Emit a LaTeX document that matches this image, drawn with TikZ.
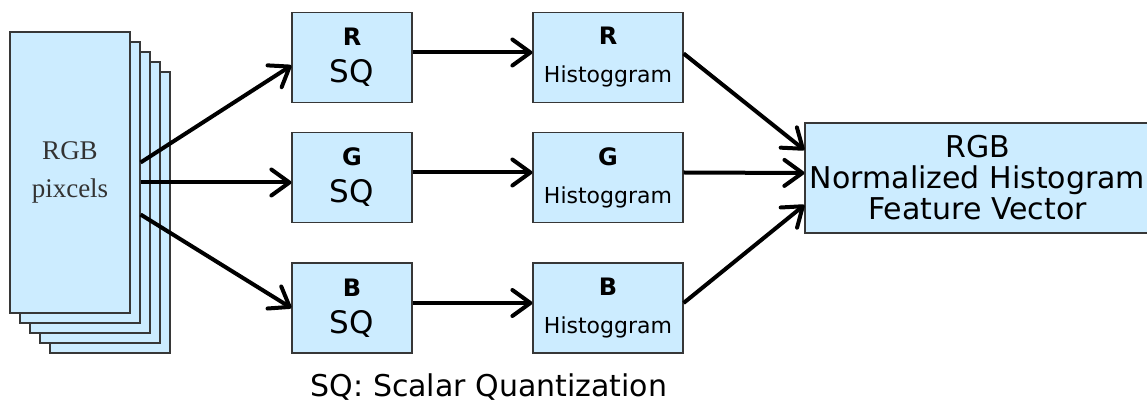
\documentclass[tikz,border=0pt]{standalone}
\usepackage{fontspec}
\usepackage{tikz}
\usetikzlibrary{positioning, arrows.meta}
\newfontfamily\boxfont{DejaVu Sans}
\newfontfamily\pagefont{Liberation Serif}
\definecolor{boxblue}{RGB}{204,236,255}
\definecolor{edge}{RGB}{55,55,55}
\newcommand{\chan}[1]{{\fontsize{12}{18.5}\selectfont\bfseries #1}}

\tikzset{
    page/.style={draw=edge, fill=boxblue, line width=0.6pt, minimum width=60pt, minimum height=140.5pt, inner sep=0pt},
    box/.style={draw=edge, fill=boxblue, line width=0.6pt, minimum height=45pt, inner sep=0pt, align=center},
    sqbox/.style={box, minimum width=60pt, font=\boxfont\fontsize{15.5}{18.5}\selectfont},
    histbox/.style={box, minimum width=75pt, font=\boxfont\fontsize{11}{19}\selectfont},
}

\begin{document}
\begin{tikzpicture}[x=0.5pt, y=-0.5pt, line width=2pt, >={Straight Barb[length=9pt, width=13pt, round]}]
            \useasboundingbox (0, 0) rectangle (1147, 405);

            % stack of pixel planes, back to front
            \foreach \i in {4, 3, 2, 1}
                \node [page] (page\i) at (70 + 10*\i, 172.5 + 10*\i) {};
            \node [page, text=black!80, align=center, font=\pagefont\fontsize{13.5}{19}\selectfont] (page0) at (70, 172.5) {RGB\\pixcels};

            \node [sqbox] (sqR) at (352, 57.5) {\chan{R}\\SQ};
            \node [sqbox] (sqG) at (352, 177.5) {\chan{G}\\SQ};
            \node [sqbox] (sqB) at (352, 308) {\chan{B}\\SQ};

            \node [histbox] (histR) at (608, 57.5) {\chan{R}\\Histoggram};
            \node [histbox] (histG) at (608, 177.5) {\chan{G}\\Histoggram};
            \node [histbox] (histB) at (608, 308) {\chan{B}\\Histoggram};

            \node [box, minimum width=172.5pt, minimum height=55pt, font=\boxfont\fontsize{15}{15.5}\selectfont] (feat) at (977.5, 178) {RGB\\Normalized Histogram\\Feature Vector};

            \node [font=\boxfont\fontsize{15}{18}\selectfont, anchor=base] (note) at (489, 397) {SQ: Scalar Quantization};

            \draw [->] ([yshift=10pt]page1.east) -- ([yshift=-4pt]sqR.west);
            \draw [->] (page1.east) -- ([yshift=-2.5pt]sqG.west);
            \draw [->] ([yshift=-16pt]page1.east) -- (sqB.west);

            \draw [->] ([yshift=2.5pt]sqR.east) -- ([yshift=2.5pt]histR.west);
            \draw [->] ([yshift=2.5pt]sqG.east) -- ([yshift=2.5pt]histG.west);
            \draw [->] ([yshift=2.5pt]sqB.east) -- ([yshift=2.5pt]histB.west);

            \draw [->] ([yshift=2pt]histR.east) -- ([yshift=14pt]feat.west);
            \draw [->] ([yshift=2.5pt]histG.east) -- ([yshift=2.5pt]feat.west);
            \draw [->] ([yshift=2.5pt]histB.east) -- ([yshift=-13.5pt]feat.west);
        \end{tikzpicture}
\end{document}
